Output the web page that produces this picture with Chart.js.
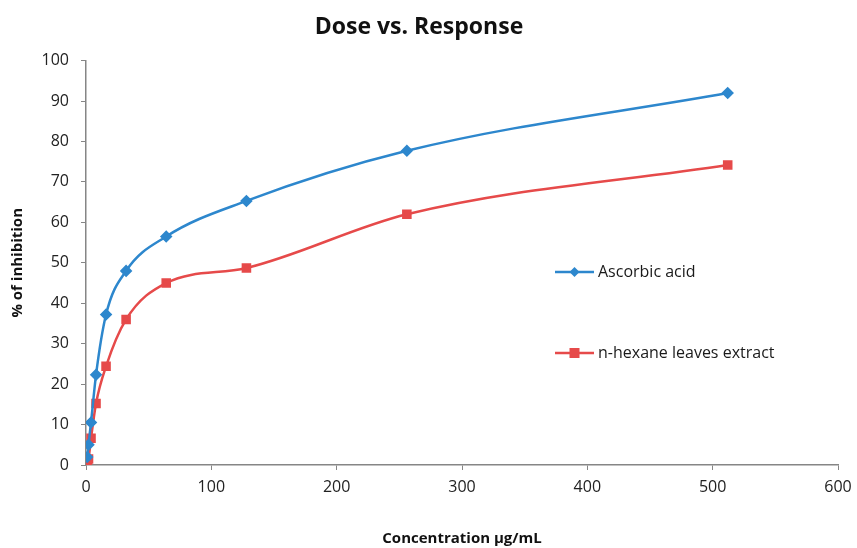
<!DOCTYPE html>
<html>
<head>
<meta charset="utf-8">
<script src="https://cdn.jsdelivr.net/npm/chart.js@4/dist/chart.umd.min.js"></script>
<style>
html,body{margin:0;padding:0;background:#fff;}
#wrap{width:857px;height:548px;position:relative;}
</style>
</head>
<body>
<div id="wrap"><canvas id="c" width="857" height="548"></canvas></div>
<script>
const doses = [1, 2, 4, 8, 16, 32, 64, 128, 256, 512];
const ascorbic = [2.0, 5.0, 10.5, 22.3, 37.2, 48.0, 56.5, 65.3, 77.7, 92.0];
const hexane = [0.4, 1.5, 6.6, 15.2, 24.4, 36.0, 45.0, 48.7, 62.0, 74.2];
const seriesNames = ['Ascorbic acid', 'n-hexane leaves extract'];
const titleText = 'Dose vs. Response';
const xTitle = 'Concentration \u00b5g/mL';
const yTitle = '% of inhibition';

const BLUE = '#2d87cd';
const RED = '#e64a4a';
const AXIS = '#868686';
const FONT = "'Open Sans', 'Noto Sans', sans-serif";

function pts(xs, ys){ return xs.map((x,i)=>({x:x, y:ys[i]})); }

const legendPlugin = {
  id: 'insideLegend',
  afterDraw(chart){
    const ctx = chart.ctx;
    const items = [
      {name: seriesNames[0], color: BLUE, style: 'diamond', y: 272},
      {name: seriesNames[1], color: RED, style: 'square', y: 353}
    ];
    ctx.save();
    items.forEach(it=>{
      ctx.strokeStyle = it.color; ctx.lineWidth = 2.5;
      ctx.beginPath(); ctx.moveTo(555, it.y); ctx.lineTo(594, it.y); ctx.stroke();
      ctx.fillStyle = it.color;
      if (it.style === 'diamond'){
        ctx.beginPath(); ctx.moveTo(574.5, it.y-5); ctx.lineTo(579.5, it.y); ctx.lineTo(574.5, it.y+5); ctx.lineTo(569.5, it.y); ctx.closePath(); ctx.fill();
      } else {
        ctx.fillRect(569.5, it.y-5, 10, 10);
      }
      ctx.fillStyle = '#1a1a1a';
      ctx.font = "16px " + FONT;
      ctx.textBaseline = 'middle';
      ctx.fillText(it.name, 598, it.y);
    });
    ctx.restore();
  }
};

new Chart(document.getElementById('c'), {
  type: 'line',
  data: {
    datasets: [
      {
        label: seriesNames[0], data: pts(doses, ascorbic),
        borderColor: BLUE, backgroundColor: BLUE, borderWidth: 2.5,
        pointStyle: 'rectRot', pointRadius: 4.5, pointHoverRadius: 4.5,
        cubicInterpolationMode: 'monotone', fill: false
      },
      {
        label: seriesNames[1], data: pts(doses, hexane),
        borderColor: RED, backgroundColor: RED, borderWidth: 2.5,
        pointStyle: 'rect', pointRadius: 5, pointHoverRadius: 5,
        cubicInterpolationMode: 'monotone', fill: false
      }
    ]
  },
  options: {
    responsive: false,
    animation: false,
    devicePixelRatio: 1,
    layout: { padding: { left: 0, right: 19, top: 0, bottom: 0 } },
    plugins: {
      legend: { display: false },
      tooltip: { enabled: false },
      title: {
        display: true, text: titleText, color: '#111',
        font: { family: FONT, size: 23, weight: 'bold' },
        padding: { top: 14, bottom: 19 }
      }
    },
    scales: {
      x: {
        type: 'linear', min: 0, max: 600,
        ticks: { stepSize: 100, color: '#222', font: { family: FONT, size: 16 }, padding: 8, maxRotation: 0 },
        grid: { display: true, drawOnChartArea: false, drawTicks: true, tickLength: 5, color: AXIS },
        border: { color: AXIS, width: 1.5 },
        title: { display: true, text: xTitle, color: '#111', font: { family: FONT, size: 15, weight: 'bold' }, padding: { top: 22, bottom: 0 } },
        afterFit(scale){ scale.height = 548 - 465; scale.paddingRight = 0; scale.paddingLeft = 0; }
      },
      y: {
        min: 0, max: 100,
        ticks: { stepSize: 10, color: '#222', font: { family: FONT, size: 16 }, padding: 12 },
        grid: { display: true, drawOnChartArea: false, drawTicks: true, tickLength: 5, color: AXIS },
        border: { color: AXIS, width: 1.5 },
        title: { display: true, text: yTitle, color: '#111', font: { family: FONT, size: 15, weight: 'bold' }, padding: { top: 9, bottom: 8 } },
        afterFit(scale){ scale.width = 86; scale.paddingTop = 0; scale.paddingBottom = 0; }
      }
    }
  },
  plugins: [legendPlugin]
});
</script>
</body>
</html>
